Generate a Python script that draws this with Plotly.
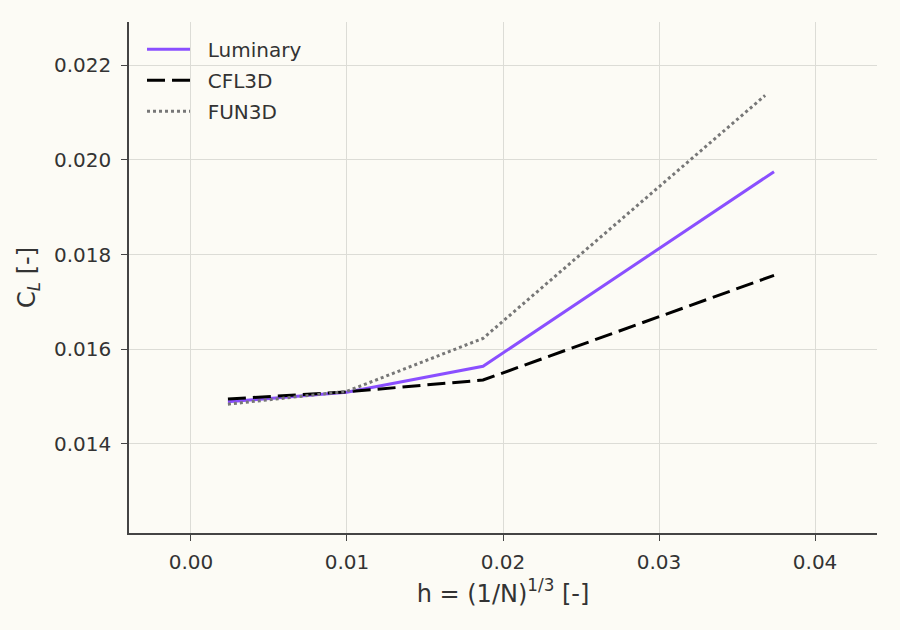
import plotly.graph_objects as go

h_lum = [0.00237, 0.00998, 0.01872, 0.03737]
cl_lum = [0.01489, 0.01509, 0.01564, 0.01975]

h_cfl = [0.00237, 0.00998, 0.01872, 0.03737]
cl_cfl = [0.01495, 0.01510, 0.01535, 0.01756]

h_fun = [0.00237, 0.00998, 0.01872, 0.03680]
cl_fun = [0.01484, 0.01511, 0.01623, 0.02136]

x_ticks = [0.0, 0.01, 0.02, 0.03, 0.04]
x_tick_labels = ["0.00", "0.01", "0.02", "0.03", "0.04"]
y_ticks = [0.014, 0.016, 0.018, 0.020, 0.022]
y_tick_labels = ["0.014", "0.016", "0.018", "0.020", "0.022"]

bg = "#fcfbf5"
axis_col = "#444444"
grid_col = "#dcdcd6"
pad = "\u00a0\u00a0"  # gap between legend line and label

fig = go.Figure()
fig.add_trace(go.Scatter(x=h_lum, y=cl_lum, mode="lines", name=pad + "Luminary", legendgroup="a",
                         line=dict(color="#8a4fff", width=3)))
fig.add_trace(go.Scatter(x=h_cfl, y=cl_cfl, mode="lines", name=pad + "CFL3D", legendgroup="b",
                         line=dict(color="black", width=3, dash="18px,7px")))
fig.add_trace(go.Scatter(x=h_fun, y=cl_fun, mode="lines", name=pad + "FUN3D", legendgroup="c",
                         line=dict(color="#777777", width=3, dash="3px,3px")))

fig.update_layout(
    width=900, height=630,
    paper_bgcolor=bg, plot_bgcolor=bg,
    font=dict(family="DejaVu Sans", size=20, color="#333333"),
    margin=dict(l=129, r=23, t=22, b=97),
    showlegend=True,
    legend=dict(x=0.0174, y=0.985, xanchor="left", yanchor="top",
                bgcolor="rgba(0,0,0,0)", font=dict(size=20, color="#333333"),
                itemwidth=43, tracegroupgap=2),
)
fig.update_xaxes(
    range=[-0.00397, 0.04397], tickvals=x_ticks, ticktext=x_tick_labels,
    showgrid=True, gridcolor=grid_col, gridwidth=1, zeroline=False,
    showline=True, linecolor=axis_col, linewidth=1.5, mirror=False,
    ticks="outside", ticklen=6, tickcolor=axis_col, ticklabelstandoff=4,
    title=dict(text="h = (1/N)<sup>1/3</sup> [-]", font=dict(size=24), standoff=12),
)
fig.update_yaxes(
    range=[0.01212, 0.02291], tickvals=y_ticks, ticktext=y_tick_labels,
    showgrid=True, gridcolor=grid_col, gridwidth=1, zeroline=False,
    showline=True, linecolor=axis_col, linewidth=1.5, mirror=False,
    ticks="outside", ticklen=6, tickcolor=axis_col, ticklabelstandoff=6,
    title=dict(text="C<sub><i>L</i></sub> [-]", font=dict(size=24), standoff=12),
)

fig.write_html(
    "out.html",
    config={"displayModeBar": False},
    post_script="document.body.style.margin='0';document.body.style.background='%s';" % bg,
)
